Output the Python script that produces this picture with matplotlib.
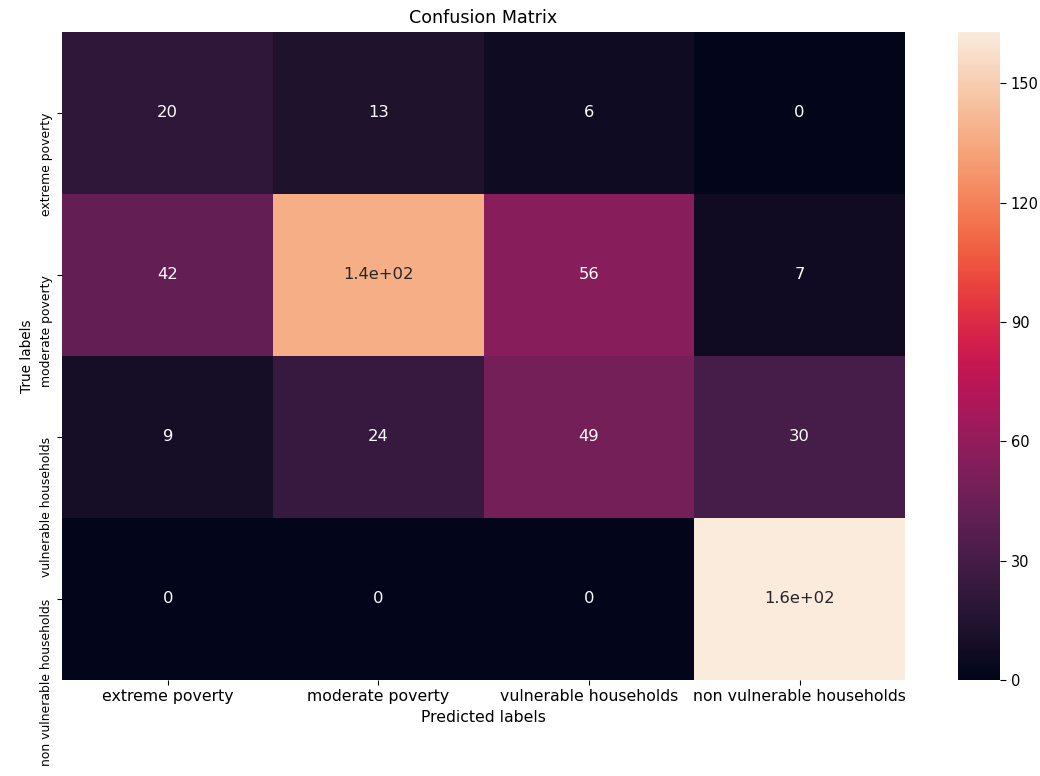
import numpy as np
import matplotlib
matplotlib.use('Agg')
import matplotlib.pyplot as plt
import seaborn as sns

classes = ["extreme poverty", "moderate poverty", "vulnerable households", "non vulnerable households"]
row_extreme = [20, 13, 6, 0]
row_moderate = [42, 137, 56, 7]
row_vulnerable = [9, 24, 49, 30]
row_non_vulnerable = [0, 0, 0, 163]
cbar_ticks = [0, 30, 60, 90, 120, 150]

cm = np.array([row_extreme, row_moderate, row_vulnerable, row_non_vulnerable])

plt.rcParams['font.size'] = 10
fig = plt.figure(figsize=(10.4, 7.76), dpi=100)
ax = fig.add_axes([0.06, 0.124, 0.81, 0.835])
cax = fig.add_axes([0.921, 0.124, 0.041, 0.835])

sns.heatmap(cm, annot=True, ax=ax, cbar_ax=cax,
            annot_kws={'size': 11.8},
            cbar_kws={'ticks': cbar_ticks})
ax.set_xticklabels(classes, fontsize=11.3)
# vertical row labels hang down from their ticks
ax.set_yticklabels(classes, rotation=90, va='top', fontsize=8.9)
ax.set_xlabel('Predicted labels', fontsize=11.3)
ax.set_ylabel('True labels', fontsize=9.8)
ax.set_title('Confusion Matrix', fontsize=12.6)
cax.tick_params(length=4, labelsize=10.5)

fig.savefig('out.png', dpi=100)
